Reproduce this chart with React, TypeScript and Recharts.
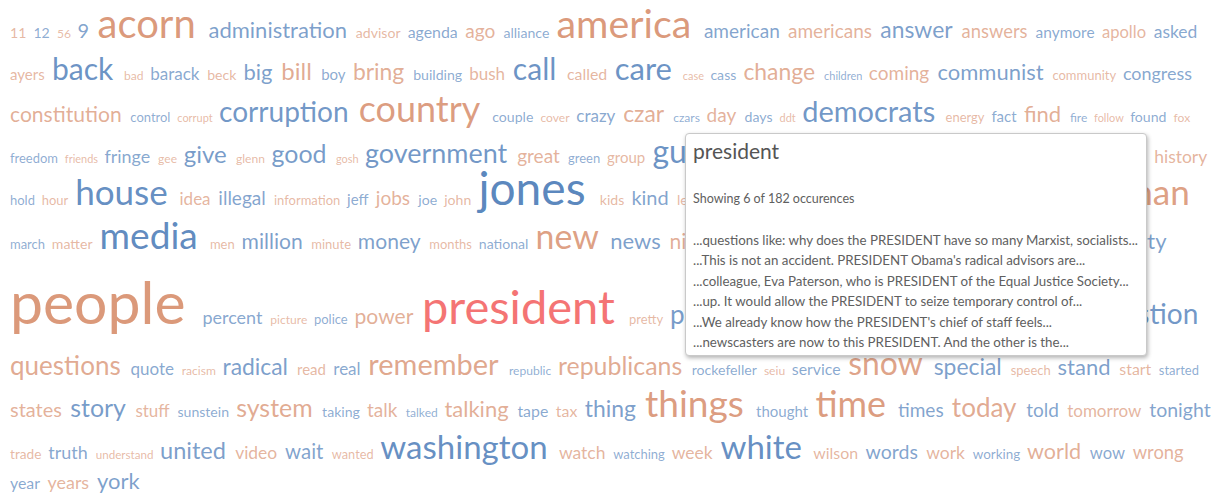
import React from 'react';
import { ScatterChart, Scatter, XAxis, YAxis } from 'recharts';

const W = 1212;
const H = 496;
const FONT = 'Lato, "Open Sans", sans-serif';

// word, number of occurrences (one array per line of the cloud)
const lineA: [string, number][] = [
  ['11', 36], ['12', 36], ['56', 27], ['9', 62], ['acorn', 151], ['administration', 71],
  ['advisor', 36], ['agenda', 44], ['ago', 58], ['alliance', 36], ['america', 148],
  ['american', 58], ['americans', 58], ['answer', 75], ['answers', 55], ['anymore', 42],
  ['apollo', 47], ['asked', 51],
];
const lineB: [string, number][] = [
  ['ayers', 40], ['back', 107], ['bad', 27], ['barack', 49], ['beck', 36], ['big', 71],
  ['bill', 80], ['boy', 40], ['bring', 75], ['building', 36], ['bush', 49], ['call', 107],
  ['called', 44], ['care', 111], ['case', 22], ['cass', 36], ['change', 75], ['children', 22],
  ['coming', 58], ['communist', 71], ['community', 31], ['congress', 53],
];
const lineC: [string, number][] = [
  ['constitution', 67], ['control', 31], ['corrupt', 22], ['corruption', 98], ['country', 133],
  ['couple', 36], ['cover', 27], ['crazy', 49], ['czar', 75], ['czars', 27], ['day', 58],
  ['days', 36], ['ddt', 22], ['democrats', 102], ['energy', 31], ['fact', 40], ['find', 71],
  ['fire', 27], ['follow', 22], ['found', 36], ['fox', 27],
];
const lineD: [string, number][] = [
  ['freedom', 31], ['friends', 22], ['fringe', 53], ['gee', 27], ['give', 80], ['glenn', 27],
  ['good', 84], ['gosh', 22], ['government', 93], ['great', 58], ['green', 31], ['group', 40],
  ['guys', 115], ['hannity', 80], ['happen', 98], ['hard', 75], ['health', 89], ['heard', 80],
  ['hey', 44], ['history', 51],
];
const lineE: [string, number][] = [
  ['hold', 31], ['hour', 31], ['house', 129], ['idea', 49], ['illegal', 58], ['information', 31],
  ['jeff', 40], ['jobs', 58], ['joe', 36], ['john', 36], ['jones', 178], ['kids', 36],
  ['kind', 62], ['left', 36], ['life', 40], ['like', 89], ['limbaugh', 98], ['little', 80],
  ['live', 89], ['long', 80], ['look', 98], ['man', 129],
];
const lineF: [string, number][] = [
  ['march', 31], ['matter', 36], ['media', 138], ['men', 31], ['million', 67], ['minute', 31],
  ['money', 67], ['months', 31], ['national', 36], ['new', 124], ['news', 71], ['night', 67],
  ['obama', 133], ['office', 71], ['officials', 53], ['old', 44], ['order', 80], ['part', 71],
  ['party', 71],
];
const lineG: [string, number][] = [
  ['people', 235], ['percent', 53], ['picture', 27], ['police', 31], ['power', 67],
  ['president', 182], ['pretty', 31], ['problem', 89], ['program', 89], ['progressive', 84],
  ['public', 89], ['question', 98],
];
const lineH: [string, number][] = [
  ['questions', 89], ['quote', 49], ['racism', 27], ['radical', 75], ['read', 40], ['real', 49],
  ['remember', 102], ['republic', 27], ['republicans', 84], ['rockefeller', 36], ['seiu', 27],
  ['service', 44], ['snow', 115], ['special', 75], ['speech', 31], ['stand', 71], ['start', 44],
  ['started', 31],
];
const lineI: [string, number][] = [
  ['states', 62], ['story', 84], ['stuff', 49], ['sunstein', 36], ['system', 84], ['taking', 36],
  ['talk', 58], ['talked', 27], ['talking', 71], ['tape', 44], ['tax', 44], ['thing', 75],
  ['things', 138], ['thought', 40], ['time', 133], ['times', 58], ['today', 89], ['told', 58],
  ['tomorrow', 49], ['tonight', 60],
];
const lineJ: [string, number][] = [
  ['trade', 34], ['truth', 53], ['understand', 25], ['united', 78], ['video', 51], ['wait', 64],
  ['wanted', 30], ['washington', 120], ['watch', 51], ['watching', 31], ['week', 51],
  ['white', 120], ['wilson', 44], ['words', 60], ['work', 51], ['working', 33], ['world', 69],
  ['wow', 47], ['wrong', 55],
];
const lineK: [string, number][] = [['year', 44], ['years', 53], ['york', 71]];

const lines = [lineA, lineB, lineC, lineD, lineE, lineF, lineG, lineH, lineI, lineJ, lineK];

const selectedWord = 'president';
const shownCount = 6;
const snippets = [
  '...questions like: why does the PRESIDENT have so many Marxist, socialists...',
  '...This is not an accident. PRESIDENT Obama\'s radical advisors are...',
  '...colleague, Eva Paterson, who is PRESIDENT of the Equal Justice Society...',
  '...up. It would allow the PRESIDENT to seize temporary control of...',
  '...We already know how the PRESIDENT\'s chief of staff feels...',
  '...newscasters are now to this PRESIDENT. And the other is the...',
];

const ORANGE = '#d8906f';
const BLUE = '#4c7cb8';
const RED = '#f47474';

const fontSizeFor = (count: number) => 6 + count / 4.44;

let measureCtx: CanvasRenderingContext2D | null = null;
function textWidth(text: string, size: number) {
  if (!measureCtx) measureCtx = document.createElement('canvas').getContext('2d');
  if (!measureCtx) return text.length * size * 0.5;
  measureCtx.font = `${size}px Lato`;
  return measureCtx.measureText(text).width;
}

interface WordPoint {
  x: number;
  y: number;
  word: string;
  count: number;
  size: number;
  fill: string;
  opacity: number;
}

// line pitch grows with very large words and shrinks for a line of small ones
function linePitch(prevMax: number, curMax: number) {
  return (
    41.8 +
    2.77 * Math.max(0, curMax - 47) +
    0.55 * Math.max(0, prevMax - 42) -
    1.4 * Math.max(0, 30 - curMax)
  );
}

function layoutCloud(): WordPoint[] {
  const points: WordPoint[] = [];
  let index = 0;
  let baseline = 38;
  let prevMax = 0;
  lines.forEach((line, li) => {
    const maxSize = Math.max(...line.map(([, c]) => fontSizeFor(c)));
    if (li > 0) baseline += linePitch(prevMax, maxSize);
    prevMax = maxSize;
    let x = 10;
    line.forEach(([word, count]) => {
      const size = fontSizeFor(count);
      const isSel = word === selectedWord;
      const t = Math.min(1, Math.max(0, (size - 12) / 28));
      points.push({
        x,
        y: baseline,
        word,
        count,
        size,
        fill: isSel ? RED : index % 2 === 0 ? ORANGE : BLUE,
        opacity: isSel ? 1 : 0.62 + 0.3 * t,
      });
      x += textWidth(word, size) + 4 + 0.22 * size;
      index++;
    });
  });
  return points;
}

const WordShape = (props: any) => {
  const { cx, cy, payload } = props;
  return (
    <text
      x={cx}
      y={cy}
      fontSize={payload.size}
      fontFamily={FONT}
      fill={payload.fill}
      fillOpacity={payload.opacity}
    >
      {payload.word}
    </text>
  );
};

function Occurrences() {
  const total = lines.flat().find(([w]) => w === selectedWord)?.[1] ?? 0;
  return (
    <div
      style={{
        position: 'absolute',
        left: 685,
        top: 133,
        width: 462,
        height: 223,
        background: '#fff',
        border: '1px solid #c9c9c9',
        borderRadius: 4,
        boxShadow: '1px 2px 4px rgba(0,0,0,0.3)',
        fontFamily: FONT,
        color: '#606060',
        boxSizing: 'border-box',
      }}
    >
      <div style={{ position: 'absolute', left: 7, top: 3, fontSize: 21, lineHeight: '28px', color: '#555' }}>
        {selectedWord}
      </div>
      <div style={{ position: 'absolute', left: 7, top: 56, fontSize: 12.5, lineHeight: '18px' }}>
        Showing {shownCount} of {total} occurences
      </div>
      <div style={{ position: 'absolute', left: 7, top: 96, fontSize: 13.3, lineHeight: '20.4px', whiteSpace: 'nowrap' }}>
        {snippets.map((s, i) => (
          <div key={i}>{s}</div>
        ))}
      </div>
    </div>
  );
}

export default function App() {
  const data = layoutCloud();
  return (
    <div style={{ position: 'absolute', left: 0, top: 0, width: W, height: H, background: '#fff', overflow: 'hidden' }}>
      <ScatterChart width={W} height={H} margin={{ top: 0, right: 0, bottom: 0, left: 0 }}>
        <XAxis type="number" dataKey="x" domain={[0, W]} hide allowDataOverflow />
        <YAxis type="number" dataKey="y" domain={[0, H]} reversed hide allowDataOverflow />
        <Scatter data={data} shape={WordShape} isAnimationActive={false} />
      </ScatterChart>
      <Occurrences />
    </div>
  );
}
